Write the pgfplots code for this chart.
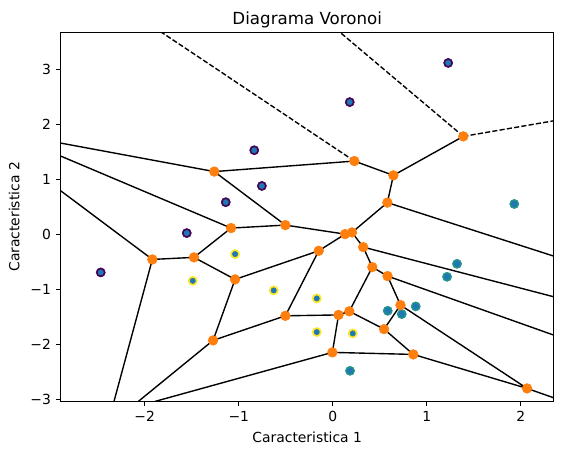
\documentclass[border=0pt]{standalone}
\usepackage{fontspec}
\setmainfont{DejaVu Sans}
\usepackage{pgfplots}
\pgfplotsset{compat=1.18}
\definecolor{vpurple}{HTML}{440154}
\definecolor{vteal}{HTML}{21918C}
\definecolor{vyellow}{HTML}{FDE725}
\definecolor{mblue}{HTML}{1F77B4}
\definecolor{morange}{HTML}{FF7F0E}
\begin{document}
\begin{tikzpicture}
\begin{axis}[
  scale only axis, width=355pt, height=265.7pt,
  xmin=-2.894, xmax=2.351, ymin=-3.036, ymax=3.673,
  axis line style={line width=0.8pt},
  tick align=outside, tick pos=left,
  major tick length=3.5pt,
  every tick/.style={black, line width=0.8pt},
  xtick={-2,-1,0,1,2}, xticklabels={−2,−1,0,1,2},
  ytick={-3,-2,-1,0,1,2,3}, yticklabels={−3,−2,−1,0,1,2,3},
  xticklabel style={anchor=base, yshift=-11.2pt},
  title={Diagrama Voronoi},
  title style={at={(axis description cs:0.5,1)}, anchor=base, font=\fontsize{12}{14}\selectfont},
  xlabel={Caracteristica 1},
  xlabel style={at={(axis description cs:0.5,-0.1122)}, anchor=base},
  ylabel={Caracteristica 2},
  ylabel style={at={(axis description cs:-0.0839,0.5)}, anchor=base},
  clip=true,
]
% class points (scatter, coloured by label)
\addplot[only marks, mark=*, mark size=3.3pt, color=vpurple] coordinates {
 (-2.468,-0.691) (-1.553,0.024) (-1.138,0.585) (-0.835,1.530) (-0.754,0.881) (0.181,2.405) (1.228,3.117)};
\addplot[only marks, mark=*, mark size=3.3pt, color=vteal] coordinates {
 (1.931,0.553) (1.322,-0.535) (1.216,-0.771) (0.585,-1.389) (0.883,-1.309) (0.734,-1.449) (0.184,-2.480)};
\addplot[only marks, mark=*, mark size=3.3pt, color=vyellow] coordinates {
 (-1.039,-0.358) (-1.489,-0.844) (-0.628,-1.018) (-0.170,-1.164) (-0.170,-1.776) (0.213,-1.800)};
% input points
\addplot[only marks, mark=*, mark size=1.9pt, color=mblue] coordinates {
 (-2.468,-0.691) (-1.553,0.024) (-1.138,0.585) (-0.835,1.530) (-0.754,0.881) (0.181,2.405) (1.228,3.117)
 (1.931,0.553) (1.322,-0.535) (1.216,-0.771) (0.585,-1.389) (0.883,-1.309) (0.734,-1.449) (0.184,-2.480)
 (-1.039,-0.358) (-1.489,-0.844) (-0.628,-1.018) (-0.170,-1.164) (-0.170,-1.776) (0.213,-1.800)};
% Voronoi vertices
\addplot[only marks, mark=*, mark size=3.5pt, color=morange] coordinates {
 (-1.260,1.142) (0.230,1.333) (1.389,1.782) (0.645,1.073) (0.581,0.578)
 (0.131,0.005) (0.205,0.036) (0.324,-0.231) (0.421,-0.595) (0.583,-0.758)
 (0.721,-1.285) (0.546,-1.722) (0.857,-2.182) (0.176,-1.398) (0.062,-1.464)
 (-0.004,-2.145) (2.067,-2.800) (-0.149,-0.298) (-0.504,0.169) (-1.082,0.115)
 (-1.476,-0.418) (-1.919,-0.455) (-1.039,-0.818) (-0.504,-1.480) (-1.273,-1.927)};
% finite ridges
\addplot[black, line width=1pt, unbounded coords=jump] coordinates {
 (-1.260,1.142) (0.230,1.333) (nan,nan)
 (-1.260,1.142) (-0.504,0.169) (nan,nan)
 (0.230,1.333) (0.645,1.073) (nan,nan)
 (0.645,1.073) (1.389,1.782) (nan,nan)
 (0.645,1.073) (0.581,0.578) (nan,nan)
 (0.581,0.578) (0.205,0.036) (nan,nan)
 (0.131,0.005) (0.205,0.036) (nan,nan)
 (0.131,0.005) (-0.504,0.169) (nan,nan)
 (0.131,0.005) (-0.149,-0.298) (nan,nan)
 (0.205,0.036) (0.324,-0.231) (nan,nan)
 (0.324,-0.231) (0.421,-0.595) (nan,nan)
 (0.421,-0.595) (0.583,-0.758) (nan,nan)
 (0.421,-0.595) (0.176,-1.398) (nan,nan)
 (0.583,-0.758) (0.721,-1.285) (nan,nan)
 (0.721,-1.285) (0.546,-1.722) (nan,nan)
 (0.721,-1.285) (2.067,-2.800) (nan,nan)
 (0.546,-1.722) (0.176,-1.398) (nan,nan)
 (0.546,-1.722) (0.857,-2.182) (nan,nan)
 (0.857,-2.182) (-0.004,-2.145) (nan,nan)
 (0.857,-2.182) (2.067,-2.800) (nan,nan)
 (0.176,-1.398) (0.062,-1.464) (nan,nan)
 (0.062,-1.464) (-0.504,-1.480) (nan,nan)
 (0.062,-1.464) (-0.004,-2.145) (nan,nan)
 (-0.149,-0.298) (-1.039,-0.818) (nan,nan)
 (-0.149,-0.298) (-0.504,-1.480) (nan,nan)
 (-0.504,0.169) (-1.082,0.115) (nan,nan)
 (-1.082,0.115) (-1.476,-0.418) (nan,nan)
 (-1.476,-0.418) (-1.919,-0.455) (nan,nan)
 (-1.476,-0.418) (-1.039,-0.818) (nan,nan)
 (-1.039,-0.818) (-1.273,-1.927) (nan,nan)
 (-0.504,-1.480) (-1.273,-1.927) (nan,nan)
 (-1.260,1.142) (-2.894,1.660) (nan,nan)
 (-1.082,0.115) (-2.894,1.424) (nan,nan)
 (-1.919,-0.455) (-2.894,0.793) (nan,nan)
 (-1.919,-0.455) (-2.327,-3.036) (nan,nan)
 (-1.273,-1.927) (-2.068,-3.036) (nan,nan)
 (-0.004,-2.145) (-1.890,-3.036) (nan,nan)
 (2.067,-2.800) (2.351,-2.971) (nan,nan)
 (0.583,-0.758) (2.351,-1.831) (nan,nan)
 (0.324,-0.231) (2.351,-1.134) (nan,nan)
 (0.581,0.578) (2.351,-0.395)};
% infinite ridges
\addplot[black, line width=1pt, dash pattern=on 3.7pt off 1.6pt, unbounded coords=jump] coordinates {
 (0.230,1.333) (-1.820,3.673) (nan,nan)
 (1.389,1.782) (0.078,3.673) (nan,nan)
 (1.389,1.782) (2.351,2.065)};
\end{axis}
\pgfresetboundingbox
\path[use as bounding box] (-43.7pt,-38.7pt) rectangle (363.1pt,289pt);
\end{tikzpicture}
\end{document}
